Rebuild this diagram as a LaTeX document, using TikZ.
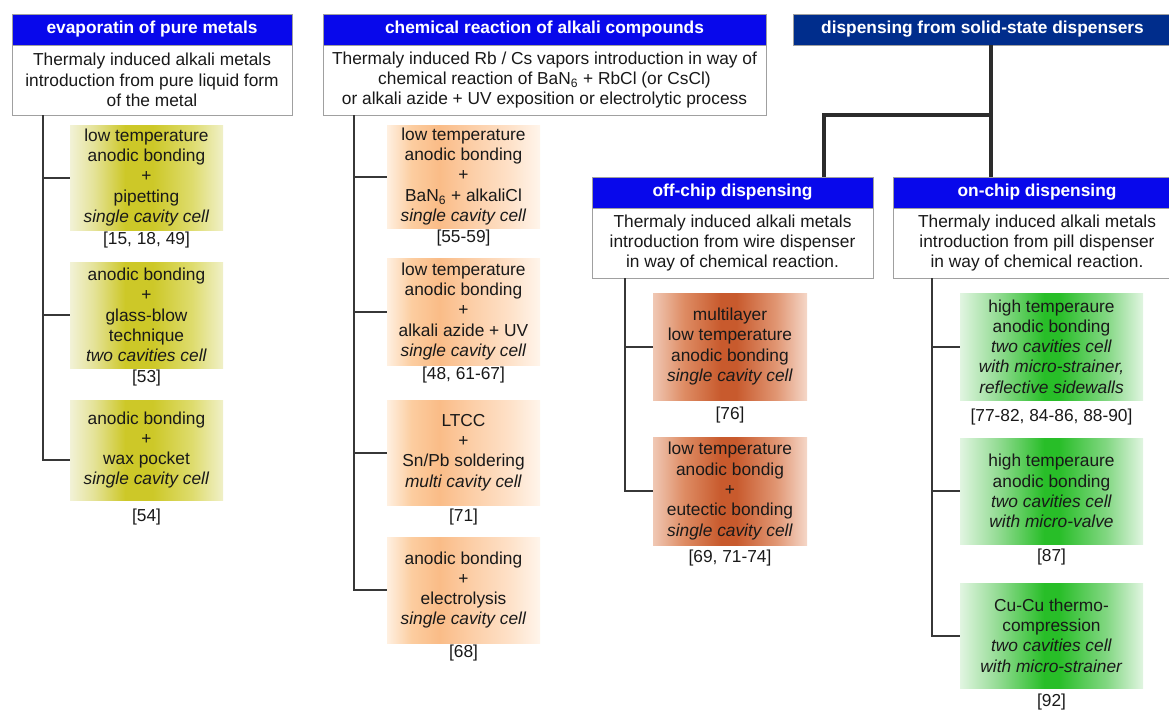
\documentclass[tikz,border=0pt]{standalone}
\usepackage{fontspec}
\setmainfont{Liberation Sans}
\definecolor{hblue}{RGB}{8,8,235}
\definecolor{hnavy}{RGB}{0,45,140}
\definecolor{txt}{RGB}{25,25,25}
\definecolor{lineg}{RGB}{55,55,55}
\definecolor{bordg}{RGB}{160,160,160}
\pgfdeclarehorizontalshading{yelsh}{100bp}{rgb(0bp)=(.949,.949,.843); rgb(25bp)=(.949,.949,.843); rgb(33bp)=(.894,.886,.588); rgb(43bp)=(.804,.784,.157); rgb(52bp)=(.804,.784,.157); rgb(65bp)=(.871,.863,.431); rgb(75bp)=(.941,.941,.784); rgb(100bp)=(.941,.941,.784)}
\pgfdeclarehorizontalshading{orash}{100bp}{rgb(0bp)=(1,.941,.882); rgb(25bp)=(1,.941,.882); rgb(33bp)=(.988,.804,.627); rgb(42bp)=(.980,.737,.529); rgb(52bp)=(.988,.804,.647); rgb(65bp)=(.996,.882,.784); rgb(75bp)=(1,.961,.922); rgb(100bp)=(1,.961,.922)}
\pgfdeclarehorizontalshading{brosh}{100bp}{rgb(0bp)=(.941,.784,.706); rgb(25bp)=(.941,.784,.706); rgb(35bp)=(.871,.549,.392); rgb(47bp)=(.784,.353,.176); rgb(52bp)=(.784,.353,.176); rgb(65bp)=(.882,.588,.451); rgb(75bp)=(.961,.843,.784); rgb(100bp)=(.961,.843,.784)}
\pgfdeclarehorizontalshading{gresh}{100bp}{rgb(0bp)=(.882,.961,.882); rgb(25bp)=(.882,.961,.882); rgb(35bp)=(.588,.863,.588); rgb(48bp)=(.157,.745,.157); rgb(52bp)=(.157,.745,.157); rgb(65bp)=(.510,.843,.510); rgb(75bp)=(.882,.961,.882); rgb(100bp)=(.882,.961,.882)}
\tikzset{
  basefont/.style={font=\fontsize{13}{15.2}\selectfont},
  hdr/.style={basefont, font=\fontsize{13}{15.2}\selectfont\bfseries, fill=hblue, draw=bordg, line width=0.6pt, text=white, minimum height=23.25pt, inner sep=0pt},
  desc/.style={basefont, fill=white, draw=bordg, line width=0.6pt, text=txt, align=center, minimum height=52.5pt, inner sep=0pt},
  item/.style={basefont, shade, align=center, text=txt, inner sep=0pt},
  itemA/.style={item, shading=yelsh, minimum width=114.75pt},
  itemB/.style={item, shading=orash, minimum width=114.75pt},
  itemC/.style={item, shading=brosh, minimum width=115.5pt},
  itemD/.style={item, shading=gresh, minimum width=137.25pt},
  cite/.style={basefont, text=txt, inner sep=0pt},
  conn/.style={draw=lineg, line width=1.5pt},
  thickconn/.style={draw=lineg!80!black, line width=2.4pt}
}
\begin{document}
\begin{tikzpicture}[x=0.75pt,y=-0.75pt]
\useasboundingbox (0,0) rectangle (1169,711);

% column 1
\node[hdr, minimum width=210pt] (h1) at (152,29.5) {evaporatin of pure metals};
\node[desc, minimum width=210pt] (d1) at (152,80) {Thermaly induced alkali metals\\introduction from pure liquid form\\of the metal};
\node[itemA, minimum height=78.75pt] (b11) at (146.5,177.5) {low temperature\\anodic bonding\\+\\pipetting\\\textit{single cavity cell}};
\node[cite] (c11) at (146.5,240) {[15, 18, 49]};
\node[itemA, minimum height=79.5pt] (b12) at (146.5,315) {anodic bonding\\+\\glass-blow\\technique\\\textit{two cavities cell}};
\node[cite] (c12) at (146.5,378) {[53]};
\node[itemA, minimum height=75pt] (b13) at (146.5,450) {anodic bonding\\+\\wax pocket\\\textit{single cavity cell}};
\node[cite] (c13) at (146.5,517) {[54]};
\coordinate (t1) at (43,0);
\draw[conn] (d1.south -| t1) |- ([yshift=-7.5pt]b13.west);
\draw[conn] (t1 |- b11.west) -- (b11.west);
\draw[conn] (t1 |- b12.west) -- (b12.west);

% column 2
\node[hdr, minimum width=332.25pt] (h2) at (544.5,29.5) {chemical reaction of alkali compounds};
\node[desc, minimum width=332.25pt] (d2) at (544.5,80) {Thermaly induced Rb / Cs vapors introduction in way of\\chemical reaction of BaN\textsubscript{6} + RbCl (or CsCl)\\or alkali azide + UV exposition or electrolytic process};
\node[itemB, minimum height=77.25pt] (b21) at (463.5,176.5) {low temperature\\anodic bonding\\+\\BaN\textsubscript{6} + alkaliCl\\\textit{single cavity cell}};
\node[cite] (c21) at (463.5,238) {[55-59]};
\node[itemB, minimum height=80.25pt] (b22) at (463.5,311.5) {low temperature\\anodic bonding\\+\\alkali azide + UV\\\textit{single cavity cell}};
\node[cite] (c22) at (463.5,375) {[48, 61-67]};
\node[itemB, minimum height=78.75pt] (b23) at (463.5,452.5) {LTCC\\+\\Sn/Pb soldering\\\textit{multi cavity cell}};
\node[cite] (c23) at (463.5,517) {[71]};
\node[itemB, minimum height=79.5pt] (b24) at (463.5,590) {anodic bonding\\+\\electrolysis\\\textit{single cavity cell}};
\node[cite] (c24) at (463.5,653) {[68]};
\coordinate (t2) at (354,0);
\draw[conn] (d2.south -| t2) |- (b24.west);
\draw[conn] (t2 |- b21.west) -- (b21.west);
\draw[conn] (t2 |- b22.west) -- (b22.west);
\draw[conn] (t2 |- b23.west) -- (b23.west);

% column 3
\node[hdr, fill=hnavy, minimum width=284.25pt] (h3) at (982.5,29.5) {dispensing from solid-state dispensers};
\node[hdr, minimum width=210.75pt] (h31) at (732.5,192.5) {off-chip dispensing};
\node[desc, minimum width=210.75pt] (d31) at (732.5,243) {Thermaly induced alkali metals\\introduction from wire dispenser\\in way of chemical reaction.};
\node[hdr, minimum width=216pt] (h32) at (1037,192.5) {on-chip dispensing};
\node[desc, minimum width=216pt] (d32) at (1037,243) {Thermaly induced alkali metals\\introduction from pill dispenser\\in way of chemical reaction.};
\coordinate (s3) at (991,0);
\coordinate (sO) at (824,0);
\coordinate (j) at (991,115);
\draw[thickconn] (h3.south -| s3) -- (h32.north -| s3);
\draw[thickconn] (j) -| (h31.north -| sO);

% off-chip items
\node[itemC, minimum height=80.25pt] (b31) at (730,346.5) {multilayer\\low temperature\\anodic bonding\\\textit{single cavity cell}};
\node[cite] (c31) at (730,415) {[76]};
\node[itemC, minimum height=81pt] (b32) at (730,491) {low temperature\\anodic bondig\\+\\eutectic bonding\\\textit{single cavity cell}};
\node[cite] (c32) at (730,558) {[69, 71-74]};
\coordinate (t3) at (625,0);
\draw[conn] (d31.south -| t3) |- (b32.west);
\draw[conn] (t3 |- b31.west) -- (b31.west);

% on-chip items
\node[itemD, minimum height=80.25pt] (b41) at (1051.5,346.5) {high temperaure\\anodic bonding\\\textit{two cavities cell}\\\textit{with micro-strainer,}\\\textit{reflective sidewalls}};
\node[cite] (c41) at (1051.5,417) {[77-82, 84-86, 88-90]};
\node[itemD, minimum height=79.5pt] (b42) at (1051.5,491) {high temperaure\\anodic bonding\\\textit{two cavities cell}\\\textit{with micro-valve}};
\node[cite] (c42) at (1051.5,557) {[87]};
\node[itemD, minimum height=78.75pt] (b43) at (1051.5,635.5) {Cu-Cu thermo-\\compression\\\textit{two cavities cell}\\\textit{with micro-strainer}};
\node[cite] (c43) at (1051.5,702) {[92]};
\coordinate (t4) at (932,0);
\draw[conn] (d32.south -| t4) |- (b43.west);
\draw[conn] (t4 |- b41.west) -- (b41.west);
\draw[conn] (t4 |- b42.west) -- (b42.west);
\end{tikzpicture}
\end{document}
